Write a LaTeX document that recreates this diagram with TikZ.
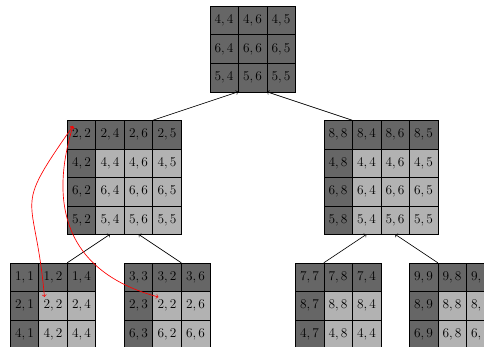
\documentclass[tikz,border=0pt]{standalone}
\usetikzlibrary{matrix, calc}
\tikzset{
    cell/.style={draw, minimum size=0.9cm, inner sep=0pt, font=\fontsize{13}{15}\selectfont},
    dark/.style={fill=black!60},
    light/.style={fill=black!30},
    grid/.style={matrix of math nodes, anchor=north west, inner sep=0pt, outer sep=0pt, column sep=-\pgflinewidth, row sep=-\pgflinewidth, nodes={cell}},
    lgrid/.style={grid, nodes={light}, row 1/.style={nodes={dark}}, column 1/.style={nodes={dark}}},
    arrow/.style={->, semithick},
    redarrow/.style={<->, semithick, red}
}
\begin{document}
\begin{tikzpicture}[x=0.9cm, y=0.9cm, line width=0.5pt]
        \useasboundingbox (-7.35,-11.96) rectangle (9.63,0.21);
        \matrix (root) [grid, nodes={dark}] at (0,0) {
            4,4 & 4,6 & 4,5 \\
            6,4 & 6,6 & 6,5 \\
            5,4 & 5,6 & 5,5 \\
        };
        \matrix (midL) [lgrid] at (-5,-4) {
            2,2 & 2,4 & 2,6 & 2,5 \\
            4,2 & 4,4 & 4,6 & 4,5 \\
            6,2 & 6,4 & 6,6 & 6,5 \\
            5,2 & 5,4 & 5,6 & 5,5 \\
        };
        \matrix (midR) [lgrid] at (4,-4) {
            8,8 & 8,4 & 8,6 & 8,5 \\
            4,8 & 4,4 & 4,6 & 4,5 \\
            6,8 & 6,4 & 6,6 & 6,5 \\
            5,8 & 5,4 & 5,6 & 5,5 \\
        };
        \matrix (leafA) [lgrid] at (-7,-9) {
            1,1 & 1,2 & 1,4 \\
            2,1 & 2,2 & 2,4 \\
            4,1 & 4,2 & 4,4 \\
        };
        \matrix (leafB) [lgrid] at (-3,-9) {
            3,3 & 3,2 & 3,6 \\
            2,3 & 2,2 & 2,6 \\
            6,3 & 6,2 & 6,6 \\
        };
        \matrix (leafC) [lgrid] at (3,-9) {
            7,7 & 7,8 & 7,4 \\
            8,7 & 8,8 & 8,4 \\
            4,7 & 4,8 & 4,4 \\
        };
        \matrix (leafD) [lgrid] at (7,-9) {
            9,9 & 9,8 & 9,6 \\
            8,9 & 8,8 & 8,6 \\
            6,9 & 6,8 & 6,6 \\
        };
        % tree edges
        \draw [arrow] (midL-1-3.north east) -- (root-3-1.south east);
        \draw [arrow] (midR-1-1.north east) -- (root-3-2.south east);
        \draw [arrow] (leafA-1-2.north east) -- (midL-4-2.south);
        \draw [arrow] (leafB-1-2.north east) -- (midL-4-3.south);
        \draw [arrow] (leafC-1-1.north east) -- (midR-4-2.south);
        \draw [arrow] (leafD-1-1.north east) -- (midR-4-3.south);
        % red links
        \draw [redarrow] ($(midL-1-1.north west)!0.2!(midL-1-1.south east)$) to[out=235, in=95, looseness=1.6] ($(leafA-2-2.north west)!0.2!(leafA-2-2.south east)$);
        \draw [redarrow] ($(midL-1-1.north west)!0.2!(midL-1-1.south east)$) to[out=253, in=165, looseness=1.2] ($(leafB-2-2.north west)!0.2!(leafB-2-2.south east)$);
    \end{tikzpicture}
\end{document}
